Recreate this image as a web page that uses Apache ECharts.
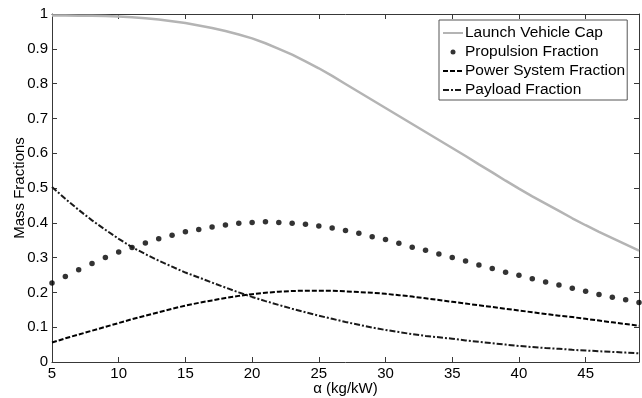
<!DOCTYPE html>
<html>
<head>
<meta charset="utf-8">
<script src="https://cdn.jsdelivr.net/npm/echarts@6/dist/echarts.min.js"></script>
<style>
  html, body { margin: 0; padding: 0; background: #ffffff; }
  #chart { width: 642px; height: 398px; }
</style>
</head>
<body>
<div id="chart"></div>
<script>
const alpha = [5, 6, 7, 8, 9, 10, 11, 12, 13, 14, 15, 16, 17, 18, 19, 20, 21, 22, 23, 24, 25, 26, 27,
  28, 29, 30, 31, 32, 33, 34, 35, 36, 37, 38, 39, 40, 41, 42, 43, 44, 45, 46, 47, 48, 49];

const launchCap = [0.996, 0.996, 0.995, 0.995, 0.994, 0.993, 0.991, 0.988, 0.984, 0.979, 0.974, 0.967,
  0.960, 0.951, 0.941, 0.930, 0.916, 0.900, 0.883, 0.864, 0.844, 0.822, 0.799, 0.776, 0.753, 0.730,
  0.707, 0.684, 0.661, 0.638, 0.615, 0.592, 0.568, 0.545, 0.521, 0.498, 0.476, 0.455, 0.434, 0.413,
  0.393, 0.374, 0.356, 0.338, 0.320];

const propulsion = [0.227, 0.246, 0.265, 0.283, 0.300, 0.316, 0.329, 0.342, 0.354, 0.364, 0.374, 0.381,
  0.388, 0.394, 0.399, 0.401, 0.403, 0.401, 0.399, 0.396, 0.391, 0.385, 0.378, 0.370, 0.360, 0.352,
  0.341, 0.330, 0.321, 0.310, 0.300, 0.290, 0.279, 0.269, 0.258, 0.249, 0.239, 0.230, 0.221, 0.212,
  0.203, 0.194, 0.186, 0.179, 0.171];

const powerSystem = [0.056, 0.068, 0.079, 0.090, 0.101, 0.112, 0.123, 0.133, 0.143, 0.153, 0.162, 0.170,
  0.177, 0.184, 0.190, 0.195, 0.199, 0.202, 0.204, 0.205, 0.205, 0.205, 0.203, 0.201, 0.199, 0.196,
  0.192, 0.188, 0.183, 0.178, 0.173, 0.168, 0.163, 0.158, 0.153, 0.148, 0.143, 0.138, 0.133, 0.129,
  0.124, 0.119, 0.114, 0.109, 0.104];

const payload = [0.503, 0.469, 0.437, 0.407, 0.380, 0.354, 0.330, 0.310, 0.291, 0.274, 0.257, 0.243,
  0.228, 0.214, 0.200, 0.187, 0.175, 0.164, 0.153, 0.143, 0.133, 0.124, 0.115, 0.107, 0.099, 0.092,
  0.086, 0.080, 0.075, 0.071, 0.067, 0.062, 0.058, 0.054, 0.050, 0.046, 0.043, 0.040, 0.038, 0.035,
  0.033, 0.031, 0.029, 0.027, 0.025];

const seriesNames = ['Launch Vehicle Cap', 'Propulsion Fraction', 'Power System Fraction', 'Payload Fraction'];

const fontFamily = '"Liberation Sans", Arial, sans-serif';
const axisColor = '#383838';

const pairs = (ys) => alpha.map((x, i) => [x, ys[i]]);

const chart = echarts.init(document.getElementById('chart'), null, { renderer: 'canvas' });

const xBase = {
  type: 'value',
  min: 5,
  max: 49,
  interval: 5,
  splitLine: { show: false },
  axisLine: { onZero: false, lineStyle: { color: axisColor, width: 1 } },
  axisTick: { inside: true, length: 5, lineStyle: { color: axisColor } }
};
const yBase = {
  type: 'value',
  min: 0,
  max: 1,
  interval: 0.1,
  splitLine: { show: false },
  axisLine: { onZero: false, lineStyle: { color: axisColor, width: 1 } },
  axisTick: { inside: true, length: 5, lineStyle: { color: axisColor } }
};

// legend: line series get only their line, no marker
const legendData = seriesNames.map((name, i) =>
  i === 1 ? { name } : { name, itemStyle: { opacity: 0 } });

chart.setOption({
  backgroundColor: '#ffffff',
  animation: false,
  textStyle: { fontFamily },
  grid: { left: 52, right: 3, top: 14, bottom: 36, outerBoundsMode: 'none', containLabel: false },
  legend: {
    orient: 'vertical',
    left: 439,
    top: 20,
    padding: [5, 2, 2, 3],
    itemWidth: 20,
    itemHeight: 5,
    itemGap: 3,
    borderColor: '#555555',
    borderWidth: 1,
    backgroundColor: '#ffffff',
    data: legendData,
    textStyle: { fontFamily, fontSize: 15.5, color: '#000000', lineHeight: 15, padding: [0, 0, 0, -3] }
  },
  xAxis: [
    Object.assign({}, xBase, {
      position: 'bottom',
      name: 'α (kg/kW)',
      nameLocation: 'middle',
      nameGap: 19,
      nameMoveOverlap: false,
      nameTextStyle: { fontFamily, fontSize: 15, color: '#000000' },
      axisLabel: { color: '#000000', fontSize: 15, fontFamily, margin: 4, showMaxLabel: false }
    }),
    Object.assign({}, xBase, { position: 'top', axisLabel: { show: false } })
  ],
  yAxis: [
    Object.assign({}, yBase, {
      position: 'left',
      name: 'Mass Fractions',
      nameLocation: 'middle',
      nameGap: 25,
      nameMoveOverlap: false,
      nameTextStyle: { fontFamily, fontSize: 15, color: '#000000' },
      axisLabel: { color: '#000000', fontSize: 15, fontFamily, margin: 4 }
    }),
    Object.assign({}, yBase, { position: 'right', axisLabel: { show: false } })
  ],
  series: [
    {
      name: seriesNames[0],
      type: 'line',
      symbol: 'none',
      lineStyle: { color: '#b4b4b4', width: 2.5 },
      itemStyle: { color: '#b4b4b4' },
      data: pairs(launchCap)
    },
    {
      name: seriesNames[1],
      type: 'scatter',
      symbol: 'circle',
      symbolSize: 5.5,
      itemStyle: { color: '#000000' },
      data: pairs(propulsion)
    },
    {
      name: seriesNames[2],
      type: 'line',
      symbol: 'none',
      lineStyle: { color: '#000000', width: 2, type: [5, 2] },
      itemStyle: { color: '#000000' },
      data: pairs(powerSystem)
    },
    {
      name: seriesNames[3],
      type: 'line',
      symbol: 'none',
      lineStyle: { color: '#1a1a1a', width: 2, type: [6, 2, 2, 2] },
      itemStyle: { color: '#1a1a1a' },
      data: pairs(payload)
    }
  ]
});
</script>
</body>
</html>
